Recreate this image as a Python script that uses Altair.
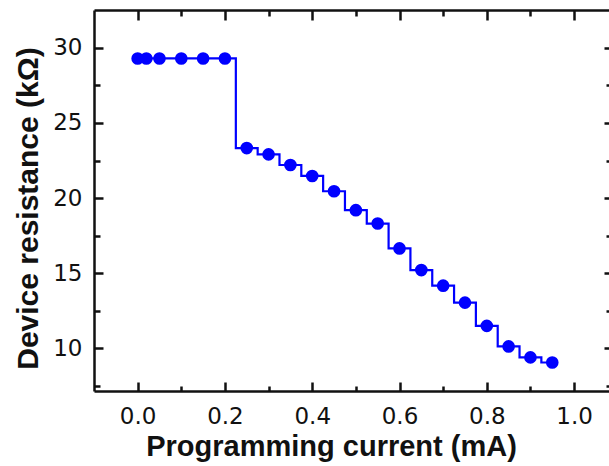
import altair as alt
import pandas as pd

# Data
current = [0.00, 0.02, 0.05, 0.10, 0.15, 0.20, 0.25, 0.30, 0.35, 0.40, 0.45,
           0.50, 0.55, 0.60, 0.65, 0.70, 0.75, 0.80, 0.85, 0.90, 0.95]
resistance = [29.3, 29.3, 29.3, 29.3, 29.3, 29.3, 23.33, 22.91, 22.20, 21.47, 20.45,
              19.19, 18.30, 16.64, 15.20, 14.16, 13.03, 11.48, 10.11, 9.38, 9.04]

x_major = [0.0, 0.2, 0.4, 0.6, 0.8, 1.0]
x_minor = [0.1, 0.3, 0.5, 0.7, 0.9]
y_major = [10, 15, 20, 25, 30]
y_minor = [7.5, 12.5, 17.5, 22.5, 27.5]

df = pd.DataFrame({"current": current, "resistance": resistance})

W, H = 515, 381
TITLE_FONT = "Liberation Sans"
LABEL_FONT = "DejaVu Sans"
BLUE = "#0000ff"
INK = "#111111"

xs = alt.Scale(domain=[-0.1, 1.08], nice=False, zero=False)
ys = alt.Scale(domain=[7.14, 32.53], nice=False, zero=False)

base = alt.Chart(df)

# Layer 1: step line + main labelled axes
line = base.mark_line(interpolate="step", color=BLUE, strokeWidth=2.2).encode(
    x=alt.X("current:Q", scale=xs, axis=alt.Axis(
        orient="bottom", values=x_major, format=".1f", ticks=False, tickSize=0,
        grid=False, domain=True, domainColor=INK, domainWidth=2.5,
        labelFont=LABEL_FONT, labelFontSize=23, labelColor=INK, labelPadding=14,
        title="Programming current (mA)", titleFont=TITLE_FONT, titleFontSize=29,
        titleFontWeight="bold", titleColor=INK, titleX=237, titleY=64,
        titleBaseline="alphabetic")),
    y=alt.Y("resistance:Q", scale=ys, axis=alt.Axis(
        orient="left", values=y_major, format="d", ticks=False, tickSize=0,
        grid=False, domain=True, domainColor=INK, domainWidth=2.5,
        labelFont=LABEL_FONT, labelFontSize=23, labelColor=INK, labelPadding=12,
        title="Device resistance (kΩ)", titleFont=TITLE_FONT, titleFontSize=30,
        titleFontWeight="bold", titleColor=INK, titleX=-57, titleY=198,
        titleBaseline="alphabetic")),
)

# Layer 2: points + inward major ticks (bottom and left)
points = base.mark_circle(size=160, color=BLUE, opacity=1).encode(
    x=alt.X("current:Q", scale=xs, axis=alt.Axis(
        orient="top", offset=-H, values=x_major, labels=False, domain=False,
        grid=False, tickSize=9, tickWidth=2.5, tickColor=INK, title=None)),
    y=alt.Y("resistance:Q", scale=ys, axis=alt.Axis(
        orient="right", offset=-W, values=y_major, labels=False, domain=False,
        grid=False, tickSize=9, tickWidth=2.5, tickColor=INK, title=None)),
)

# Layer 3: inward minor ticks (bottom and left)
minor = base.mark_circle(opacity=0).encode(
    x=alt.X("current:Q", scale=xs, axis=alt.Axis(
        orient="top", offset=-H, values=x_minor, labels=False, domain=False,
        grid=False, tickSize=5, tickWidth=2.5, tickColor=INK, title=None)),
    y=alt.Y("resistance:Q", scale=ys, axis=alt.Axis(
        orient="right", offset=-W, values=y_minor, labels=False, domain=False,
        grid=False, tickSize=6, tickWidth=2.5, tickColor=INK, title=None)),
)

# Layer 4: inward ticks on top and right (mirrored), top frame line
mirror_major = base.mark_circle(opacity=0).encode(
    x=alt.X("current:Q", scale=xs, axis=alt.Axis(
        orient="bottom", offset=-H, values=x_major, labels=False, domain=True,
        domainColor=INK, domainWidth=2.5,
        grid=False, tickSize=10, tickWidth=2.5, tickColor=INK, title=None)),
    y=alt.Y("resistance:Q", scale=ys, axis=alt.Axis(
        orient="left", offset=-W, values=y_major, labels=False, domain=False,
        grid=False, tickSize=5, tickWidth=2.5, tickColor=INK, title=None)),
)

mirror_minor = base.mark_circle(opacity=0).encode(
    x=alt.X("current:Q", scale=xs, axis=alt.Axis(
        orient="bottom", offset=-H, values=x_minor, labels=False, domain=False,
        grid=False, tickSize=6, tickWidth=2.5, tickColor=INK, title=None)),
    y=alt.Y("resistance:Q", scale=ys, axis=alt.Axis(
        orient="left", offset=-W, values=y_minor, labels=False, domain=False,
        grid=False, tickSize=3, tickWidth=2.5, tickColor=INK, title=None)),
)

chart = alt.layer(line, points, minor, mirror_major, mirror_minor).resolve_axis(
    x="independent", y="independent"
).properties(
    width=W, height=H,
    padding={"left": 94, "top": 10, "right": 0, "bottom": 75},
    autosize=alt.AutoSizeParams(type="none"),
    background="white",
).configure_view(stroke=None)

chart.save("out.html", embed_options={"renderer": "svg", "actions": False})
